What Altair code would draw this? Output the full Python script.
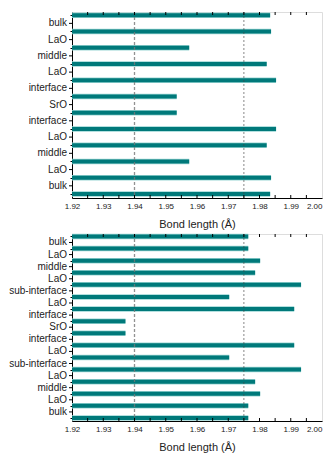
import altair as alt
import pandas as pd

# ---- data ----
top_labels = ["bulk", "LaO", "middle", "LaO", "interface", "SrO", "interface",
              "LaO", "middle", "LaO", "bulk"]
top_values = [1.9834, 1.9837, 1.9575, 1.9823, 1.9853, 1.9535, 1.9535,
              1.9853, 1.9823, 1.9575, 1.9837, 1.9834]

bottom_labels = ["bulk", "LaO", "middle", "LaO", "sub-interface", "LaO", "interface",
                 "SrO", "interface", "LaO", "sub-interface", "LaO", "middle", "LaO", "bulk"]
bottom_values = [1.9764, 1.9764, 1.9802, 1.9786, 1.9933, 1.9703, 1.9911, 1.9371,
                 1.9371, 1.9911, 1.9703, 1.9933, 1.9786, 1.9802, 1.9764, 1.9764]

x_major = [1.92, 1.93, 1.94, 1.95, 1.96, 1.97, 1.98, 1.99, 2.00]
x_minor = [1.925, 1.93, 1.935, 1.94, 1.945, 1.95, 1.955, 1.96, 1.965, 1.97,
           1.975, 1.98, 1.985, 1.99, 1.995]
ref_dashed = [1.94]
ref_dotted = [1.975]

X_MIN, X_MAX = 1.92, 2.00
BAR = "#00797a"
BAR_EDGE = "#9ad6d4"
FONT = "Liberation Sans"


def panel(values, labels, height):
    n = len(values)
    bars = pd.DataFrame({"pos": list(range(n)), "value": values, "base": [X_MIN] * n})
    labs = pd.DataFrame({"lpos": [i + 0.5 for i in range(len(labels))], "name": labels})
    ticks = pd.DataFrame({"t": x_minor})

    xscale = alt.Scale(domain=[X_MIN, X_MAX], nice=False, zero=False)
    yscale = alt.Scale(domain=[-0.2, n - 1 + 0.25], reverse=True, nice=False, zero=False)

    xaxis = alt.Axis(values=x_major, format=".2f", ticks=False, tickSize=0, grid=False,
                     labelFontSize=8, labelPadding=4, labelColor="#222", labelFont=FONT,
                     labelOverlap=False, labelFlush=False,
                     labelAlign={"condition": {"test": "datum.value >= 1.999", "value": "right"},
                                 "value": "center"},
                     title="Bond length (Å)", titleFontSize=11, titleFontWeight="normal",
                     titleFont=FONT, titleColor="#222", titlePadding=8,
                     domainColor="#000")
    yaxis = alt.Axis(values=list(range(n)), grid=False, tickSize=2, tickColor="#000",
                     labels=False, title=None, domainColor="#000")

    def X(field):
        return alt.X(field, scale=xscale, axis=xaxis)

    def Y(field):
        return alt.Y(field, scale=yscale, axis=yaxis)

    base = alt.Chart(bars)
    edge = base.mark_rule(strokeWidth=5.5, strokeCap="butt", color=BAR_EDGE).encode(
        x=X("base:Q"), x2=alt.X2("value:Q"), y=Y("pos:Q"),
    )
    core = base.mark_rule(strokeWidth=4, strokeCap="butt", color=BAR).encode(
        x=X("base:Q"), x2=alt.X2("value:Q"), y=Y("pos:Q"),
    )
    # category labels sit between the bars, placed through the y scale
    label_text = alt.Chart(labs).mark_text(
        align="right", baseline="middle", fontSize=10, font=FONT, color="#222", dx=-5
    ).encode(x=alt.value(0), y=Y("lpos:Q"), text="name:N")
    label_tick = alt.Chart(labs).mark_rule(color="#000", strokeWidth=1).encode(
        x=alt.value(-3), x2=alt.value(0), y=Y("lpos:Q")
    )
    dashed = alt.Chart(pd.DataFrame({"r": ref_dashed})).mark_rule(
        color="#777", strokeWidth=1.3, strokeDash=[3, 2], opacity=0.8
    ).encode(x=X("r:Q"))
    dotted = alt.Chart(pd.DataFrame({"r": ref_dotted})).mark_rule(
        color="#444", strokeWidth=0.8, strokeDash=[2, 2], opacity=0.8
    ).encode(x=X("r:Q"))
    tick_bot = alt.Chart(ticks).mark_rule(color="#000", strokeWidth=1).encode(
        x=X("t:Q"), y=alt.value(height), y2=alt.value(height - 3)
    )
    tick_top = alt.Chart(ticks).mark_rule(color="#000", strokeWidth=1).encode(
        x=X("t:Q"), y=alt.value(0), y2=alt.value(3)
    )
    return alt.layer(edge, core, dashed, dotted, tick_bot, tick_top,
                     label_tick, label_text).properties(width=250, height=height)


top = panel(top_values, top_labels, 186)
bottom = panel(bottom_values, bottom_labels, 187)

chart = alt.vconcat(top, bottom, spacing=2).properties(
    padding={"left": 0, "top": 2, "right": 0, "bottom": 0}
).configure_view(stroke="#333", strokeWidth=1, clip=False).configure_axis(
    labelOverlap=False
).configure(background="white")

chart.save("out.html", embed_options={"renderer": "svg", "actions": False})
